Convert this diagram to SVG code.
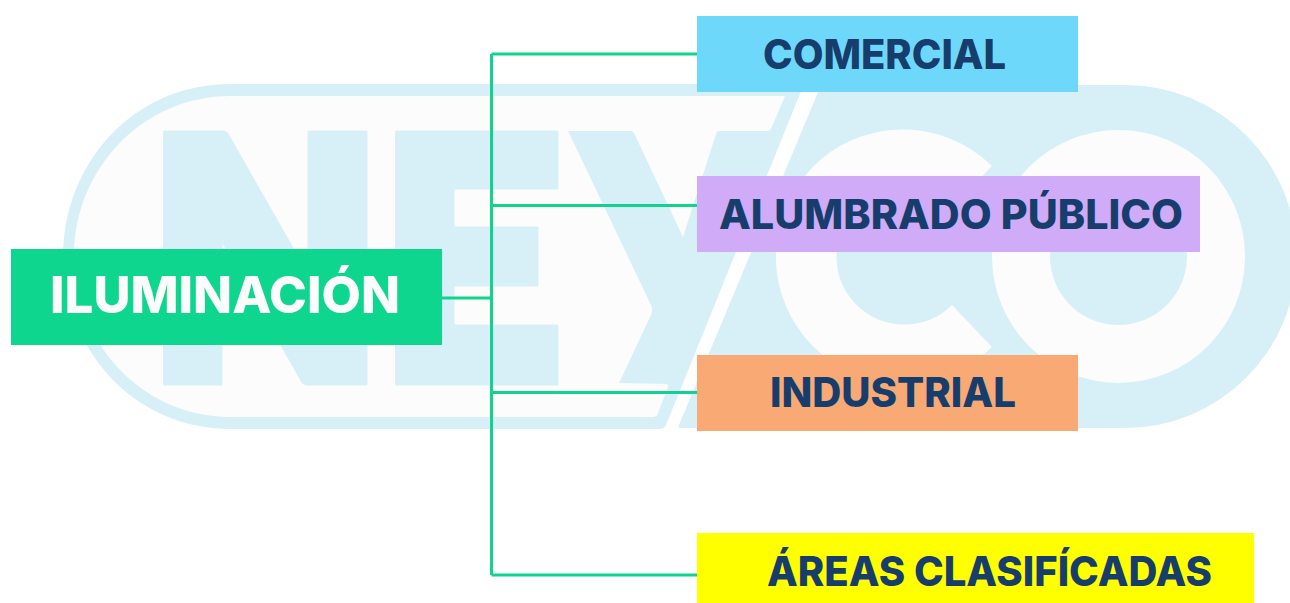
<svg xmlns="http://www.w3.org/2000/svg" width="1290" height="603" viewBox="0 0 1290 603">
<style>
.wm{fill:#d7f0f8}
.wh{fill:#fcfcfc}
.wl{fill:#fcfcfc;stroke:#fcfcfc;stroke-width:2;stroke-linejoin:round}
.b{stroke:#d7f0f8;stroke-width:3;stroke-linejoin:round}
.c{fill:none;stroke:#10d48e;stroke-width:3}
text{font-family:Inter,"Liberation Sans",Arial,sans-serif;font-weight:800;fill:#163d6c;font-size:41px;text-anchor:start}
</style>
<rect width="1290" height="603" fill="#ffffff"/>
<g id="watermark">
<path class="wm" d="M231,84 L804,84 L666,425 Q664,429 660,429 L231,429 C130,429 63,345 63,256 C63,167 130,84 231,84Z"/>
<path class="wh" d="M231,96 L785,96 L771,129 Q770,131 767,131 L719,131 Q717,131 716,134 L683,237 L634,133 Q633,131 631,131 L568,131 L651,305 Q653,310 651,315 L619,383 L667,384 Q669,385 668,387 L658,413 Q657,417 653,417 L231,417 C140,417 74,340 74,256 C74,172 140,96 231,96Z"/>
<path class="wm" d="M821,85 L1125,85 A171.5,171.5 0 0 1 1125,428 L680,428 Q678,428 679,425Z"/>
<path class="wm b" d="M164.500,132 L224,132 L227,134 L309,278 L309,132 L366,132 L366,384 L306,384 L303,382 L221,238 L221,384 L164.500,384Z"/>
<path class="wm b" d="M396.500,132 L557,132 L557,188 L455,188 L453,190 L453,226 L455,228 L537,228 L537,285 L455,285 L453,287 L453,324 L455,326 L557,326 L557,384 L396.500,384Z"/>
<path class="wl" d="M990.500,166 A126,126 0 1 0 990.500,347 L952,306.500 A69,69 0 1 1 952,206.500Z"/>
<path fill-rule="evenodd" class="wh" d="M992,256.500 A126.500,126.500 0 1 0 1245,256.500 A126.500,126.500 0 1 0 992,256.500Z M1050,256.500 A68.500,68.500 0 1 1 1187,256.500 A68.500,68.500 0 1 1 1050,256.500Z"/>
</g>
<g id="connectors">
<path class="c" d="M442,298 H491.500 M491.500,54 V575 M491.500,54 H697 M491.500,205.500 H697 M491.500,392.500 H697 M491.500,575 H697"/>
</g>
<g id="iluminacion">
<rect x="11" y="249" width="431" height="96" fill="#0fd68f"/>
<text x="50" y="313" textLength="350" lengthAdjust="spacingAndGlyphs" style="font-size:51px;fill:#fcfcfc">ILUMINACIÓN</text>
</g>
<g id="comercial">
<rect x="697" y="16" width="381" height="76" fill="#6ed8fb"/>
<text x="763" y="69" textLength="243" lengthAdjust="spacingAndGlyphs">COMERCIAL</text>
</g>
<g id="alumbrado">
<rect x="697" y="176" width="503" height="76" fill="#cfabf8"/>
<text x="719" y="229" textLength="464" lengthAdjust="spacingAndGlyphs">ALUMBRADO PÚBLICO</text>
</g>
<g id="industrial">
<rect x="697" y="355" width="381" height="76" fill="#f9a974"/>
<text x="770" y="407" textLength="246" lengthAdjust="spacingAndGlyphs">INDUSTRIAL</text>
</g>
<g id="areas">
<rect x="697" y="533" width="557" height="70" fill="#ffff00"/>
<text x="767" y="586" textLength="445" lengthAdjust="spacingAndGlyphs">ÁREAS CLASIFÍCADAS</text>
</g>
</svg>
